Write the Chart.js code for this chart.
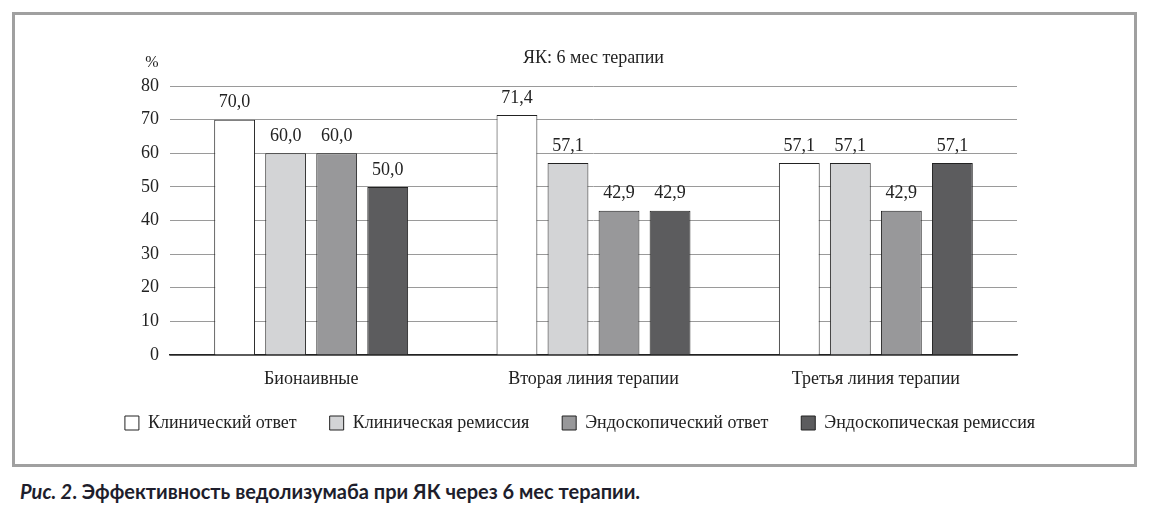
<!DOCTYPE html>
<html>
<head>
<meta charset="utf-8">
<script src="https://cdn.jsdelivr.net/npm/chart.js@4.4.1/dist/chart.umd.min.js"></script>
<style>
  html, body { margin: 0; padding: 0; background: #fff; }
  #wrap { position: relative; width: 1154px; height: 510px; }
  #frame { position: absolute; left: 12px; top: 12px; width: 1119px; height: 449px; border: 3px solid #a0a0a0; }
  #box { position: absolute; left: 0; top: 0; width: 1154px; height: 470px; }
  #caption { position: absolute; left: 20px; top: 479px; font-family: Lato, "Open Sans", sans-serif; font-weight: bold; font-size: 20px; color: #1e1e2c; }
</style>
</head>
<body>
<div id="wrap">
  <div id="frame"></div>
  <div id="box"><canvas id="myChart" width="1154" height="470"></canvas></div>
  <div id="caption"><i>Рис. 2</i>. Эффективность ведолизумаба при ЯК через 6 мес терапии.</div>
</div>
<script>
const ctx = document.getElementById('myChart');

const groups = ['Бионаивные', 'Вторая линия терапии', 'Третья линия терапии'];
const seriesNames = ['Клинический ответ', 'Клиническая ремиссия', 'Эндоскопический ответ', 'Эндоскопическая ремиссия'];
const clinicalResponse = [70.0, 71.4, 57.1];
const clinicalRemission = [60.0, 57.1, 57.1];
const endoResponse = [60.0, 42.9, 42.9];
const endoRemission = [50.0, 42.9, 57.1];
const barColors = ['#ffffff', '#d3d4d6', '#98989a', '#5c5c5e'];
const yTicks = [0, 10, 20, 30, 40, 50, 60, 70, 80];

const serif = '"Liberation Serif", "DejaVu Serif", serif';
const textColor = '#222222';

// value labels over bars, "%" and the inner title
const extras = {
    id: 'extras',
    afterLayout(chart) {
        // pull the legend row a bit closer to the axis labels
        chart.legend.top -= 8;
        chart.legend.bottom -= 8;
    },
    afterDatasetsDraw(chart) {
        const c = chart.ctx;
        c.save();
        c.fillStyle = textColor;
        c.font = '18px ' + serif;
        c.textAlign = 'center';
        c.textBaseline = 'middle';
        chart.data.datasets.forEach(function(ds, i) {
            chart.getDatasetMeta(i).data.forEach(function(bar, j) {
                c.fillText(ds.data[j].toFixed(1).replace('.', ','), bar.x, bar.y - 17);
            });
        });
        const area = chart.chartArea;
        c.fillText('ЯК: 6 мес терапии', (area.left + area.right) / 2, 58);
        c.font = '16px ' + serif;
        c.fillText('%', 152, 63);
        c.restore();
    }
};

new Chart(ctx, {
    type: 'bar',
    data: {
        labels: groups,
        datasets: [clinicalResponse, clinicalRemission, endoResponse, endoRemission].map(function(vals, i) {
            return {
                label: seriesNames[i],
                data: vals,
                backgroundColor: barColors[i],
                borderColor: '#222222',
                borderWidth: 1,
                barPercentage: 0.8,
                categoryPercentage: 0.723
            };
        })
    },
    options: {
        responsive: false,
        animation: false,
        devicePixelRatio: 1,
        layout: { padding: { left: 83, right: 77, top: 86, bottom: 20 } },
        scales: {
            x: {
                afterFit: function(scale) { scale.height = 34; },
                grid: { display: false, drawTicks: false },
                border: { color: '#222222', width: 1.5 },
                ticks: { color: textColor, font: { family: serif, size: 18 }, padding: 13 }
            },
            y: {
                min: 0,
                max: 80,
                afterFit: function(scale) { scale.width = 87; },
                afterBuildTicks: function(scale) { scale.ticks = yTicks.map(function(v) { return { value: v }; }); },
                grid: { color: '#9a9a9a', drawTicks: false },
                border: { display: false },
                ticks: { color: textColor, font: { family: serif, size: 18 }, padding: 11 }
            },
            // empty right-hand axis that only keeps room on the right
            yRight: {
                position: 'right',
                min: 0,
                max: 80,
                afterFit: function(scale) { scale.width = 60; },
                grid: { display: false, drawTicks: false },
                border: { display: false },
                ticks: { display: false }
            }
        },
        plugins: {
            legend: {
                position: 'bottom',
                labels: {
                    color: textColor,
                    font: { family: serif, size: 18 },
                    boxWidth: 14,
                    boxHeight: 14,
                    padding: 33
                }
            },
            title: { display: false },
            tooltip: { enabled: false }
        }
    },
    plugins: [extras]
});
</script>
</body>
</html>
